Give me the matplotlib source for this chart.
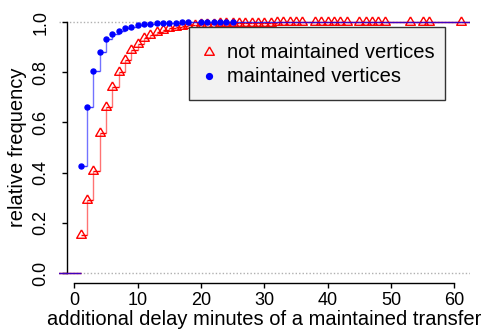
import numpy as np
import matplotlib
matplotlib.use('Agg')
import matplotlib.pyplot as plt
from matplotlib.lines import Line2D
from matplotlib.patches import Rectangle

plt.rcParams['font.family'] = ['Liberation Sans', 'DejaVu Sans']

# ecdf knots (delay minutes) and cumulative relative frequency
maint_x = [1, 2, 3, 4, 5, 6, 7, 8, 9, 10, 11, 12, 13, 14, 15, 16, 17, 18,
           20, 21, 22, 23, 24, 25]
maint_y = [0.427, 0.661, 0.805, 0.880, 0.932, 0.952, 0.965, 0.976, 0.982, 0.989,
           0.991, 0.993, 0.995, 0.996, 0.997, 0.998, 0.9985, 0.999,
           0.9993, 0.9995, 0.9997, 0.9998, 0.9999, 1.0]

notm_x = list(range(1, 37)) + [38, 39, 40, 41, 42, 43, 45, 46, 47, 48, 49, 53, 55, 56, 61]
notm_y = [0.153, 0.291, 0.405, 0.557, 0.662, 0.742, 0.800, 0.850, 0.887, 0.913,
          0.936, 0.950, 0.961, 0.969, 0.975, 0.980, 0.984, 0.987, 0.989, 0.991,
          0.9925, 0.9937, 0.9947, 0.9955, 0.9962, 0.9965, 0.9970, 0.9973, 0.9976, 0.9979,
          0.9981, 0.9983, 0.9985, 0.9987, 0.9988, 0.9989,
          0.9990, 0.9991, 0.9992, 0.9993, 0.9994, 0.9995,
          0.9996, 0.99965, 0.9997, 0.99975, 0.9998,
          0.99985, 0.9999, 0.99995, 1.0]

x_ticks = [0, 10, 20, 30, 40, 50, 60]
y_ticks = [0.0, 0.2, 0.4, 0.6, 0.8, 1.0]
legend_labels = ['not maintained vertices', 'maintained vertices']

XMIN, XMAX = -2.41, 62.45
W, H = 485, 334

fig = plt.figure(figsize=(W / 100, H / 100), dpi=100)
ax = fig.add_axes([59/W, 1 - 283/H, 411/W, 271/H])
ax.set_xlim(XMIN, XMAX)
ax.set_ylim(-0.04, 1.04)

# R-style gray dotted guides at 0 and 1
ax.axhline(0, color='#b0b0b0', lw=1, ls=(0, (1, 1.5)), zorder=1)
ax.axhline(1, color='#b0b0b0', lw=1, ls=(0, (1, 1.5)), zorder=1)

# triangle with its centroid on the point, like R pch=2
tri = [(0, 1), (-0.866, -0.5), (0.866, -0.5), (0, 1)]


def draw_ecdf(xs, ys, color, marker, ms, mfc, z, alpha=1.0):
    xs = np.array(xs, dtype=float)
    ys = np.array(ys, dtype=float)
    left = np.concatenate([[XMIN - 1], xs])
    right = np.concatenate([xs, [XMAX + 1]])
    levels = np.concatenate([[0.0], ys])
    ax.hlines(levels, left, right, color=color, lw=1, alpha=alpha, zorder=z)
    # no riser from 0 to the first knot
    ax.vlines(xs[1:], ys[:-1], ys[1:], color=color, lw=1, alpha=0.55, zorder=z)
    ax.plot(xs, ys, ls='none', marker=marker, ms=ms, mfc=mfc, mec=color,
            mew=1, zorder=z + 0.5)


draw_ecdf(notm_x, notm_y, 'red', tri, 8, 'none', 3)
draw_ecdf(maint_x, maint_y, 'blue', 'o', 3.6, 'blue', 4, alpha=0.75)

for s in ['top', 'right']:
    ax.spines[s].set_visible(False)
ax.spines['left'].set_position(('axes', 8/411))
ax.spines['left'].set_bounds(0, 1)
ax.spines['bottom'].set_bounds(0, 60)
ax.spines['left'].set_linewidth(1)
ax.spines['bottom'].set_linewidth(1)

ax.set_xticks(x_ticks)
ax.set_xticklabels([str(t) for t in x_ticks])
ax.set_yticks(y_ticks)
ax.set_yticklabels(['%.1f' % t for t in y_ticks], rotation=90, va='center')
ax.tick_params(length=3.5, width=1, labelsize=13)
ax.tick_params(axis='x', pad=3)
ax.tick_params(axis='y', pad=9)

ax.set_xlabel('additional delay minutes of a maintained transfer', fontsize=14.5, labelpad=0.5)
ax.set_ylabel('relative frequency', fontsize=14.5, labelpad=4)

# legend box drawn by hand, R-style
fig.patches.append(Rectangle((189/W, 1 - 100/H), 256/W, 73/H, transform=fig.transFigure,
                             facecolor='#f2f2f2', edgecolor='#333333', lw=1, zorder=10))
fig.add_artist(Line2D([209/W], [1 - 52/H], transform=fig.transFigure, ls='none',
                      marker=tri, ms=8, mfc='none', mec='red', mew=1, zorder=11))
fig.add_artist(Line2D([209/W], [1 - 76/H], transform=fig.transFigure, ls='none',
                      marker='o', ms=4.2, mfc='blue', mec='blue', zorder=11))
fig.text(227/W, 1 - 52/H, legend_labels[0], fontsize=14.5, va='center', ha='left', zorder=11)
fig.text(227/W, 1 - 76/H, legend_labels[1], fontsize=14.5, va='center', ha='left', zorder=11)

fig.savefig('out.png', dpi=100)
